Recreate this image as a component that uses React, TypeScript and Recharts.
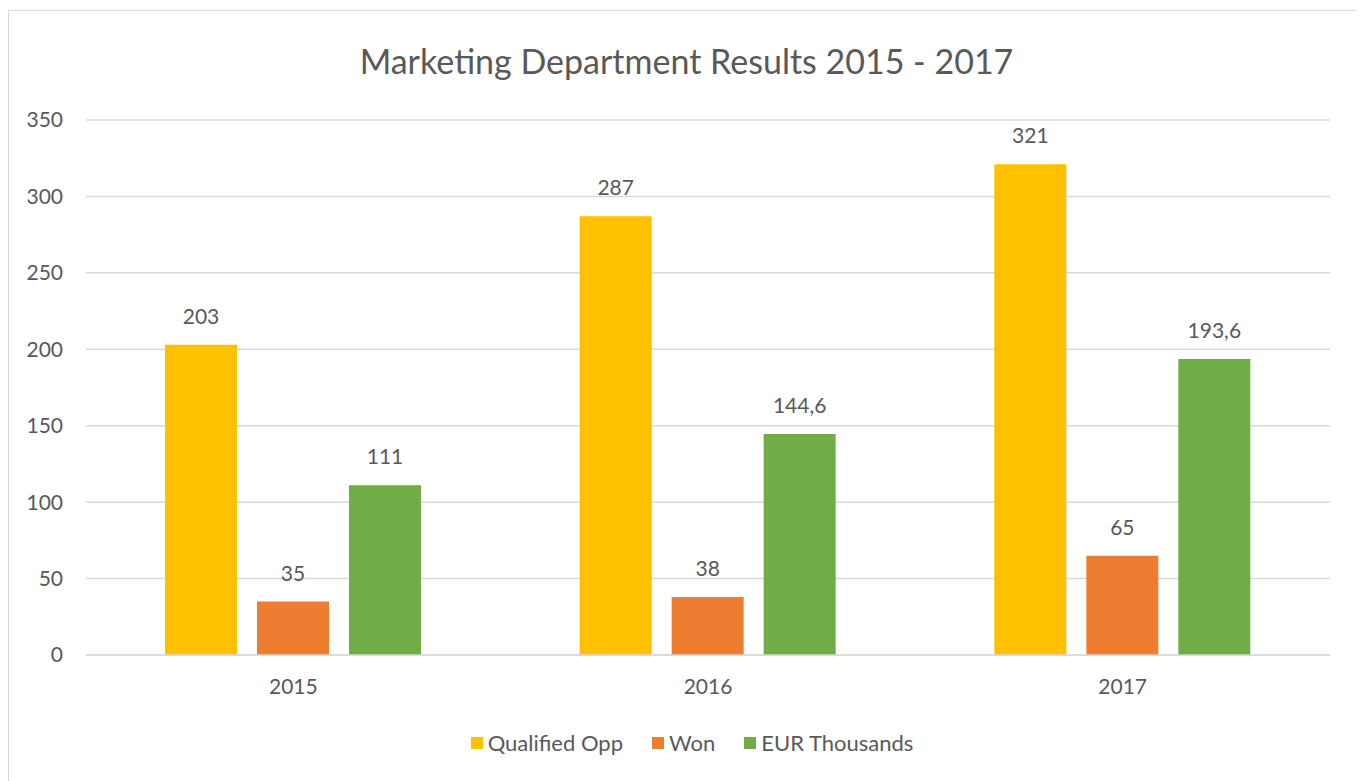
import { Bar, BarChart, CartesianGrid, LabelList, Legend, XAxis, YAxis } from "recharts";

const years = ["2015", "2016", "2017"];
const qualifiedOpp = [203, 287, 321];
const won = [35, 38, 65];
const eurThousands = [111, 144.6, 193.6];
const yTicks = [0, 50, 100, 150, 200, 250, 300, 350];

const series = [
  { key: "qualified", name: "Qualified Opp", color: "#FFC000" },
  { key: "won", name: "Won", color: "#ED7D31" },
  { key: "eur", name: "EUR Thousands", color: "#70AD47" },
];

const chartData = years.map((year, i) => ({
  year,
  qualified: qualifiedOpp[i],
  won: won[i],
  eur: eurThousands[i],
}));

const FONT = "Lato, 'Open Sans', sans-serif";
const TEXT = "#595959";

const formatValue = (v: any) => String(v).replace(".", ",");

const CustomLegend = () => (
  <div
    style={{
      display: "flex",
      justifyContent: "center",
      alignItems: "center",
      gap: 29,
      fontFamily: FONT,
      fontSize: 22,
      color: TEXT,
    }}
  >
    {series.map((s) => (
      <div key={s.key} style={{ display: "flex", alignItems: "center" }}>
        <span
          style={{
            display: "inline-block",
            width: 12,
            height: 12,
            background: s.color,
            marginRight: 5,
          }}
        />
        <span>{s.name}</span>
      </div>
    ))}
  </div>
);

const App = () => {
  return (
    <div
      style={{
        position: "relative",
        marginTop: 2,
        width: 1355,
        height: 775,
        border: "1px solid #d9d9d9",
        background: "#fff",
      }}
    >
      <div
        style={{
          position: "absolute",
          top: 29,
          left: 0,
          width: "100%",
          textAlign: "center",
          fontFamily: FONT,
          fontSize: 34,
          color: TEXT,
        }}
      >
        Marketing Department Results 2015 - 2017
      </div>
      <BarChart
        width={1355}
        height={770}
        data={chartData}
        margin={{ top: 109, right: 34, bottom: 69, left: 0 }}
        barSize={72}
        barGap={20}
      >
        <CartesianGrid vertical={false} stroke="#d9d9d9" strokeWidth={1.5} />
        <XAxis
          dataKey="year"
          axisLine={{ stroke: "#d9d9d9", strokeWidth: 1.5 }}
          tickLine={false}
          tickSize={0}
          tickMargin={24}
          tick={{ fill: TEXT, fontFamily: FONT, fontSize: 21 }}
        />
        <YAxis
          width={77}
          domain={[0, 350]}
          ticks={yTicks}
          axisLine={false}
          tickLine={false}
          tickSize={0}
          tickMargin={23}
          tick={{ fill: TEXT, fontFamily: FONT, fontSize: 21 }}
        />
        <Legend
          verticalAlign="bottom"
          wrapperStyle={{ bottom: 25, left: 11, width: 1344 }}
          content={() => <CustomLegend />}
        />
        {series.map((s) => (
          <Bar
            key={s.key}
            dataKey={s.key}
            name={s.name}
            fill={s.color}
            isAnimationActive={false}
          >
            <LabelList
              dataKey={s.key}
              position="top"
              offset={21}
              formatter={formatValue}
              style={{ fill: TEXT, fontFamily: FONT, fontSize: 21 }}
            />
          </Bar>
        ))}
      </BarChart>
    </div>
  );
};

export default App;
